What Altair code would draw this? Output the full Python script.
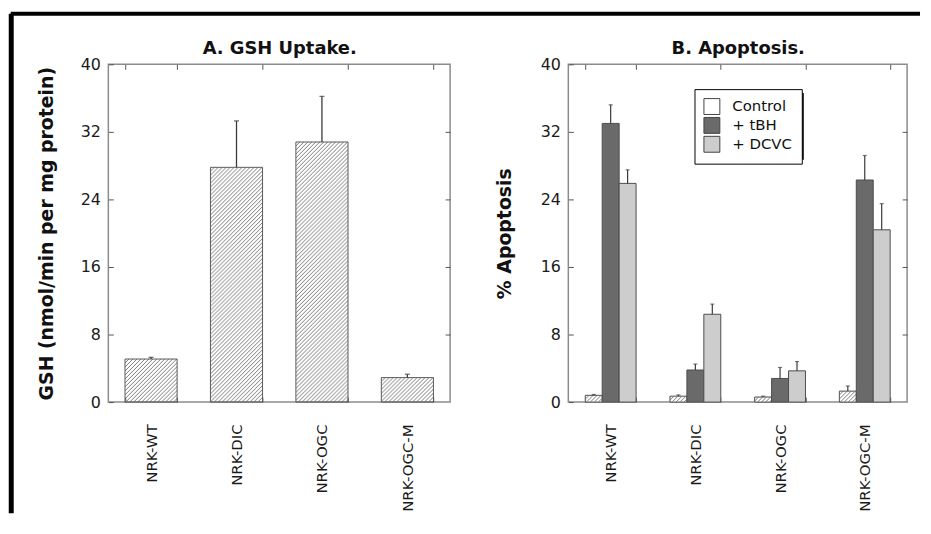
import altair as alt
import pandas as pd
from urllib.parse import quote

# ---------------- data ----------------
cells = ["NRK-WT", "NRK-DIC", "NRK-OGC", "NRK-OGC-M"]

gsh_uptake = [5.1, 27.8, 30.8, 2.9]
gsh_err = [0.2, 5.5, 5.4, 0.4]

series = ["Control", "+ tBH", "+ DCVC"]
apo_control = [0.8, 0.7, 0.6, 1.3]
apo_control_err = [0.1, 0.15, 0.1, 0.6]
apo_tbh = [33.0, 3.8, 2.8, 26.3]
apo_tbh_err = [2.2, 0.7, 1.3, 2.9]
apo_dcvc = [25.9, 10.4, 3.7, 20.4]
apo_dcvc_err = [1.6, 1.2, 1.1, 3.1]

y_ticks = [0, 8, 16, 24, 32, 40]
inner_ticks = [8, 16, 24, 32]
series_colors = ["#ffffff", "#6a6a6a", "#cdcdcd"]

dfA = pd.DataFrame({"cell": cells, "val": gsh_uptake,
                    "top": [v + e for v, e in zip(gsh_uptake, gsh_err)]})

rows = []
for s, vals, errs in [("Control", apo_control, apo_control_err),
                      ("+ tBH", apo_tbh, apo_tbh_err),
                      ("+ DCVC", apo_dcvc, apo_dcvc_err)]:
    for c, v, e in zip(cells, vals, errs):
        rows.append({"cell": c, "series": s, "val": v, "top": v + e})
dfB = pd.DataFrame(rows)
one = pd.DataFrame({"k": [0]})

FONT = "DejaVu Sans"
hatch_svg = ("<svg xmlns='http://www.w3.org/2000/svg'>"
             "<defs><pattern id='h' width='4' height='4' patternUnits='userSpaceOnUse'>"
             "<path d='M-1,1 l2,-2 M0,4 l4,-4 M3,5 l2,-2' stroke='#6a6a6a' stroke-width='0.9'/>"
             "</pattern></defs><rect width='100%' height='100%' fill='url(#h)'/></svg>")
hatch_url = "data:image/svg+xml;charset=utf-8," + quote(hatch_svg)

W_A, W_B, H = 344, 341, 340
GAP = 119
yscale = alt.Scale(domain=[0, 40], nice=False, zero=True)


def main_x_axis():
    return alt.Axis(orient="bottom", offset=-5, tickSize=5, tickBand="extent",
                    domain=False, labelAngle=-90, labelAlign="right",
                    labelBaseline="middle", labelPadding=22, labelFontSize=15,
                    tickColor="#555555", grid=False, title=None)


def main_y_axis(title, tpad):
    return alt.Axis(orient="left", offset=-5, tickSize=5, values=y_ticks,
                    labelPadding=8, labelFontSize=16, domain=False, grid=False,
                    tickColor="#555555", title=title, titleFontSize=19,
                    titleFontWeight="bold", titlePadding=tpad)


def top_axis(title):
    return alt.Axis(orient="top", offset=-5, tickSize=5, tickBand="extent",
                    labels=False, domain=False, grid=False, title=title,
                    titleFontSize=18, titleFontWeight="bold", titlePadding=6,
                    tickColor="#555555")


right_axis = alt.Axis(orient="right", offset=-5, tickSize=5, values=inner_ticks,
                      labels=False, domain=False, grid=False, title=None,
                      tickColor="#555555")

# ---------------- panel A ----------------
xA_scale = alt.Scale(domain=cells, paddingInner=0.39, paddingOuter=0.195)

hatchA = alt.Chart(dfA).mark_image(aspect=False).encode(
    x=alt.X("cell:N", sort=cells, scale=xA_scale, axis=None),
    y=alt.Y("val:Q", scale=yscale, axis=None),
    y2=alt.datum(0),
    url=alt.value(hatch_url),
)
outlineA = alt.Chart(dfA).mark_bar(fill="white", fillOpacity=0, stroke="#5a5a5a",
                                    strokeWidth=1).encode(
    x=alt.X("cell:N", sort=cells, scale=xA_scale, axis=main_x_axis()),
    y=alt.Y("val:Q", scale=yscale,
            axis=main_y_axis("GSH (nmol/min per mg protein)", 24)),
)
errA = alt.Chart(dfA).mark_rule(color="#3a3a3a", strokeWidth=1.3).encode(
    x=alt.X("cell:N", sort=cells, scale=xA_scale, axis=top_axis("A. GSH Uptake.")),
    y=alt.Y("val:Q", scale=yscale, axis=right_axis),
    y2="top:Q",
)
capA = alt.Chart(dfA).mark_tick(color="#3a3a3a", thickness=1.3, size=5).encode(
    x=alt.X("cell:N", sort=cells, scale=xA_scale, axis=None),
    y=alt.Y("top:Q", scale=yscale, axis=None),
)
# figure frame (thick black border at the top and left)
border_left = alt.Chart(one).mark_rule(color="black", strokeWidth=5).encode(
    x=alt.value(-97.75), y=alt.value(-51), y2=alt.value(452))
border_top = alt.Chart(one).mark_rule(color="black", strokeWidth=4).encode(
    x=alt.value(-98.25), x2=alt.value(817), y=alt.value(-51))

chartA = alt.layer(hatchA, outlineA, errA, capA, border_left, border_top).resolve_axis(
    x="independent", y="independent"
).properties(width=W_A, height=H)

# ---------------- panel B ----------------
xB_scale = alt.Scale(domain=cells, paddingInner=0.4, paddingOuter=0.2)
off_scale = alt.Scale(domain=series, paddingInner=0, paddingOuter=0)

LEG_X, LEG_Y = 127, 25

barsB = alt.Chart(dfB).mark_bar(stroke="#4d4d4d", strokeWidth=1).encode(
    x=alt.X("cell:N", sort=cells, scale=xB_scale, axis=main_x_axis()),
    xOffset=alt.XOffset("series:N", sort=series, scale=off_scale),
    y=alt.Y("val:Q", scale=yscale, axis=main_y_axis("% Apoptosis", 26)),
    fill=alt.Fill("series:N", sort=series,
                  scale=alt.Scale(domain=series, range=series_colors),
                  legend=alt.Legend(title=None, orient="none",
                                    legendX=W_A + GAP + LEG_X, legendY=LEG_Y,
                                    symbolType="square", symbolSize=256,
                                    symbolStrokeColor="#444444", symbolStrokeWidth=1,
                                    labelFontSize=15, labelFont=FONT, labelColor="#111111",
                                    labelOffset=12, rowPadding=-3, padding=9,
                                    strokeColor="black", fillColor="white", zindex=1)),
)
hatchB = alt.Chart(dfB).transform_filter(alt.datum.series == "Control").mark_image(
    aspect=False).encode(
    x=alt.X("cell:N", sort=cells, scale=xB_scale, axis=None),
    xOffset=alt.XOffset("series:N", sort=series, scale=off_scale),
    y=alt.Y("val:Q", scale=yscale, axis=None),
    y2=alt.datum(0),
    url=alt.value(hatch_url),
)
errB = alt.Chart(dfB).mark_rule(color="#3a3a3a", strokeWidth=1.2).encode(
    x=alt.X("cell:N", sort=cells, scale=xB_scale, axis=top_axis("B. Apoptosis.")),
    xOffset=alt.XOffset("series:N", sort=series, scale=off_scale),
    y=alt.Y("val:Q", scale=yscale, axis=right_axis),
    y2="top:Q",
)
capB = alt.Chart(dfB).mark_tick(color="#3a3a3a", thickness=1.2, size=4).encode(
    x=alt.X("cell:N", sort=cells, scale=xB_scale, axis=None),
    xOffset=alt.XOffset("series:N", sort=series, scale=off_scale),
    y=alt.Y("top:Q", scale=yscale, axis=None),
)
# drop shadow behind the legend box
shadow = alt.Chart(one).mark_rect(color="black").encode(
    x=alt.value(LEG_X + 4), x2=alt.value(LEG_X + 110),
    y=alt.value(LEG_Y + 4), y2=alt.value(LEG_Y + 71))

chartB = alt.layer(barsB, hatchB, errB, capB, shadow).resolve_axis(
    x="independent", y="independent"
).properties(width=W_B, height=H)

chart = alt.hconcat(chartA, chartB, spacing=GAP, bounds="flush").properties(
    padding={"left": 0, "top": 0, "right": 0, "bottom": 0},
    background="white",
).configure(font=FONT).configure_view(
    stroke="#8c8c8c", strokeWidth=1.5
).configure_axis(
    labelFont=FONT, titleFont=FONT, labelColor="#1a1a1a", titleColor="#111111",
)

chart.save("out.html", embed_options={"renderer": "svg", "actions": False})
